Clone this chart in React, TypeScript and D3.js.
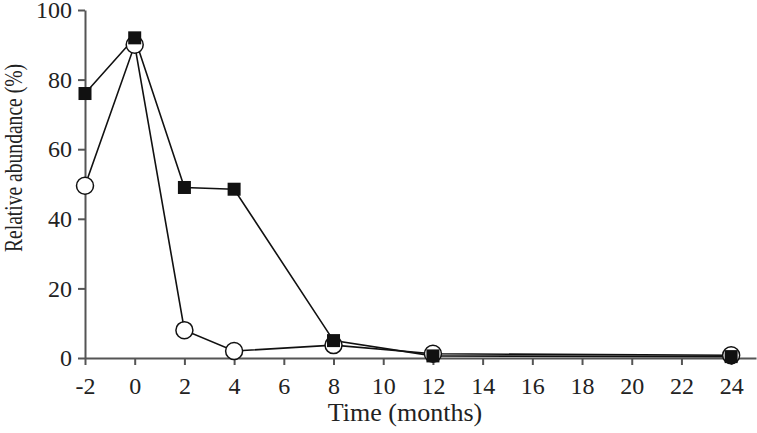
import { useRef, useEffect } from 'react'
import * as d3 from 'd3'

// months after treatment
const months = [-2, 0, 2, 4, 8, 12, 24]
// filled squares
const squareSeries = [76, 92, 49, 48.5, 5, 0.6, 0.4]
// open circles
const circleSeries = [49.5, 90, 8, 2, 3.7, 1.2, 0.8]

const xTicks = [-2, 0, 2, 4, 6, 8, 10, 12, 14, 16, 18, 20, 22, 24]
const yTicks = [0, 20, 40, 60, 80, 100]

const W = 757
const H = 433
const FONT = "'Liberation Serif','Times New Roman',serif"

export default function App() {
  const svgRef = useRef<SVGSVGElement>(null)

  useEffect(() => {
    const svg = d3.select(svgRef.current)
    svg.selectAll('*').remove()

    const x = d3.scaleLinear().domain([-2, 25]).range([85, 756])
    const y = d3.scaleLinear().domain([0, 100]).range([358, 10])
    const axisColor = '#555'

    // Y axis
    const ya = svg.append('g').attr('transform', `translate(${x(-2)},0)`)
      .call(d3.axisLeft(y).tickValues(yTicks).tickSize(7).tickPadding(6).tickSizeOuter(0))
    ya.attr('font-family', FONT).attr('font-size', 24)
    ya.select('.domain').attr('stroke', axisColor).attr('stroke-width', 2)
    ya.selectAll('.tick line').attr('stroke', axisColor).attr('stroke-width', 2)
    ya.selectAll('.tick text').attr('fill', '#222')

    // X axis
    const xa = svg.append('g').attr('transform', `translate(0,${y(0)})`)
      .call(d3.axisBottom(x).tickValues(xTicks).tickSize(7).tickPadding(12).tickSizeOuter(0)
        .tickFormat((d) => String(d)))
    xa.attr('font-family', FONT).attr('font-size', 24)
    xa.select('.domain').attr('stroke', axisColor).attr('stroke-width', 2)
    xa.selectAll('.tick line').attr('stroke', axisColor).attr('stroke-width', 2)
    xa.selectAll('.tick text').attr('fill', '#222')

    svg.append('text')
      .attr('x', 405).attr('y', 421)
      .attr('text-anchor', 'middle')
      .attr('font-family', FONT).attr('font-size', 26).attr('fill', '#222')
      .text('Time (months)')

    svg.append('text')
      .attr('transform', `translate(22,158) rotate(-90)`)
      .attr('text-anchor', 'middle')
      .attr('font-family', FONT).attr('font-size', 26).attr('fill', '#222')
      .attr('textLength', 188).attr('lengthAdjust', 'spacingAndGlyphs')
      .text('Relative abundance (%)')

    const line = d3.line<[number, number]>().x((d) => x(d[0])).y((d) => y(d[1]))
    const circlePts = months.map((m, i) => [m, circleSeries[i]] as [number, number])
    const squarePts = months.map((m, i) => [m, squareSeries[i]] as [number, number])

    svg.append('path').attr('d', line(circlePts))
      .attr('fill', 'none').attr('stroke', '#111').attr('stroke-width', 1.6)
    svg.append('path').attr('d', line(squarePts))
      .attr('fill', 'none').attr('stroke', '#111').attr('stroke-width', 1.6)

    svg.selectAll('circle.c').data(circlePts).enter().append('circle')
      .attr('cx', (d) => x(d[0])).attr('cy', (d) => y(d[1])).attr('r', 8.5)
      .attr('fill', '#fff').attr('stroke', '#111').attr('stroke-width', 1.5)

    const s = 13
    svg.selectAll('rect.s').data(squarePts).enter().append('rect')
      .attr('x', (d) => x(d[0]) - s / 2).attr('y', (d) => y(d[1]) - s / 2)
      .attr('width', s).attr('height', s)
      .attr('fill', '#111')
  }, [])

  return (
    <svg ref={svgRef} width={W} height={H}
      style={{ position: 'absolute', left: 0, top: 0, background: '#fff' }} />
  )
}
